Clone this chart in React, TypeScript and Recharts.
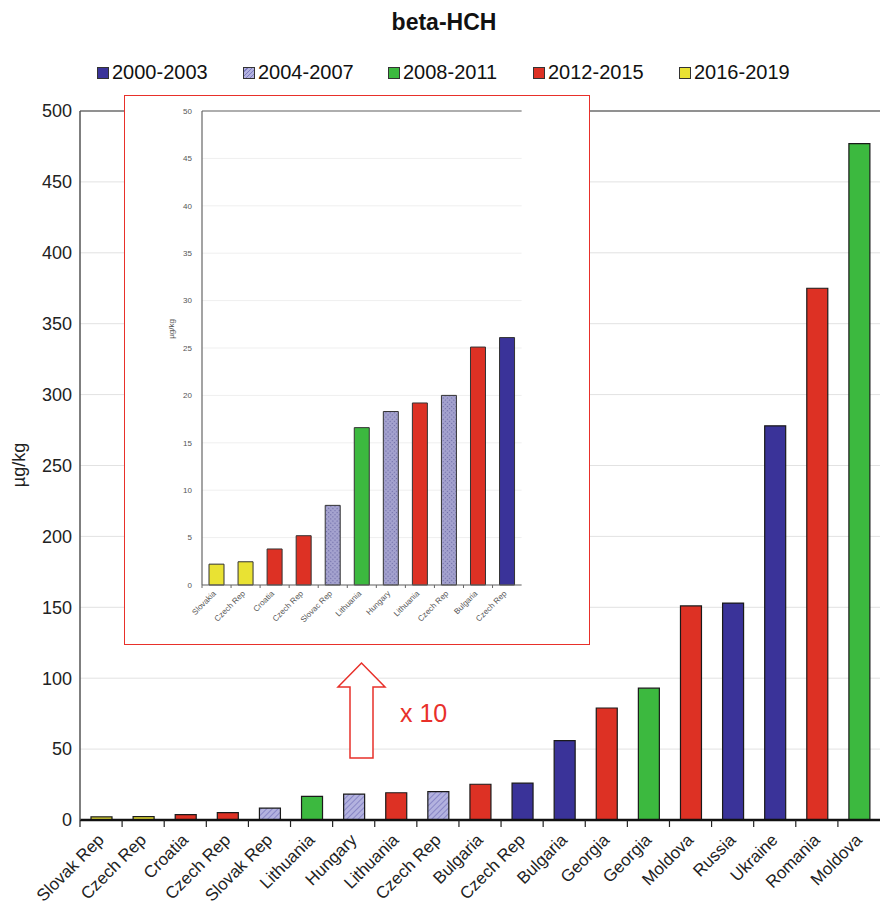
import { BarChart, Bar, XAxis, YAxis, CartesianGrid, Cell, ReferenceLine } from "recharts";

const periods = ["2000-2003", "2004-2007", "2008-2011", "2012-2015", "2016-2019"];
const periodFills = ["#3a3399", "url(#hatchMain)", "#3cb93f", "#dd3124", "#e9e233"];
const insetFills = ["#3a3399", "url(#hatchInset)", "#3cb93f", "#dd3124", "#e9e233"];

const mainCountries = [
  "Slovak Rep", "Czech Rep", "Croatia", "Czech Rep", "Slovak Rep", "Lithuania", "Hungary",
  "Lithuania", "Czech Rep", "Bulgaria", "Czech Rep", "Bulgaria", "Georgia", "Georgia",
  "Moldova", "Russia", "Ukraine", "Romania", "Moldova",
];
const mainValues = [2.2, 2.4, 3.8, 5.2, 8.4, 16.7, 18.3, 19.2, 20, 25.2, 26, 56, 79, 93, 151, 153, 278, 375, 477];
const mainPeriods = [4, 4, 3, 3, 1, 2, 1, 3, 1, 3, 0, 0, 3, 2, 3, 0, 0, 3, 2];
const mainTicks = [0, 50, 100, 150, 200, 250, 300, 350, 400, 450, 500];

const insetCountries = [
  "Slovakia", "Czech Rep", "Croatia", "Czech Rep", "Slovac Rep", "Lithuania",
  "Hungary", "Lithuania", "Czech Rep", "Bulgaria", "Czech Rep",
];
const insetValues = [2.2, 2.45, 3.8, 5.2, 8.4, 16.6, 18.3, 19.2, 20, 25.1, 26.1];
const insetPeriods = [4, 4, 3, 3, 1, 2, 1, 3, 1, 3, 0];
const insetTicks = [0, 5, 10, 15, 20, 25, 30, 35, 40, 45, 50];

const mainData = mainCountries.map((c, i) => ({ id: i, country: c, value: mainValues[i], period: mainPeriods[i] }));
const insetData = insetCountries.map((c, i) => ({ id: i, country: c, value: insetValues[i], period: insetPeriods[i] }));

const FONT = '"Liberation Sans", Arial, sans-serif';
const MAIN_BAND = 800 / 19;
const INSET_BAND = 319.6 / 11;

function MainTick({ x, y, payload }: any) {
  const label = mainCountries[payload.value];
  return (
    <g>
      <line x1={x - MAIN_BAND / 2} x2={x - MAIN_BAND / 2} y1={y} y2={y + 7} stroke="#222" strokeWidth={1.2} />
      <text
        transform={`translate(${x + 4},${y + 21}) rotate(-45)`}
        textAnchor="end"
        fontSize={17}
        fill="#222"
        fontFamily={FONT}
      >
        {label}
      </text>
    </g>
  );
}

function InsetTick({ x, y, payload }: any) {
  const label = insetCountries[payload.value];
  return (
    <g>
      <line x1={x - INSET_BAND / 2} x2={x - INSET_BAND / 2} y1={y} y2={y + 3} stroke="#666" strokeWidth={1} />
      <text
        transform={`translate(${x},${y + 9}) rotate(-45)`}
        textAnchor="end"
        fontSize={8}
        fill="#555"
        fontFamily={FONT}
      >
        {label}
      </text>
    </g>
  );
}

const legendX = [97, 243, 388, 533, 679];

export default function App() {
  return (
    <div style={{ position: "absolute", left: 0, top: 0, width: 880, height: 905, background: "#fff", fontFamily: FONT, overflow: "hidden" }}>
      <div style={{ position: "absolute", left: 0, top: 9, width: 888, textAlign: "center", fontSize: 23, fontWeight: "bold", color: "#111" }}>
        beta-HCH
      </div>
      {periods.map((p, i) => (
        <div key={p} style={{ position: "absolute", left: legendX[i], top: 61, display: "flex", alignItems: "center", fontSize: 20, color: "#111" }}>
          <span
            style={{
              display: "inline-block",
              width: 10,
              height: 10,
              border: "1px solid #333",
              marginRight: 3,
              background:
                i === 1
                  ? "repeating-linear-gradient(135deg, #b3b2df 0 2px, #7d7bc0 2px 3px)"
                  : periodFills[i],
            }}
          />
          {p}
        </div>
      ))}

      <div style={{ position: "absolute", left: 0, top: 0 }}>
        <BarChart width={880} height={905} data={mainData} margin={{ top: 111, right: 0, bottom: 0, left: 0 }}>
          <defs>
            <pattern id="hatchMain" width="4" height="4" patternUnits="userSpaceOnUse" patternTransform="rotate(45)">
              <rect width="4" height="4" fill="#b3b2df" />
              <line x1="0" y1="0" x2="0" y2="4" stroke="#7d7bc0" strokeWidth="1.6" />
            </pattern>
          </defs>
          <CartesianGrid vertical={false} stroke="#e2e2e2" />
          <XAxis
            dataKey="id"
            height={85}
            interval={0}
            tick={<MainTick />}
            tickLine={false}
            tickSize={0}
            tickMargin={0}
            axisLine={{ stroke: "#111", strokeWidth: 2.5 }}
          />
          <YAxis
            width={80}
            domain={[0, 500]}
            ticks={mainTicks}
            tickLine={false}
            axisLine={{ stroke: "#555", strokeWidth: 1.5 }}
            tick={{ fill: "#222", fontSize: 18, fontFamily: FONT }}
          />
          <ReferenceLine y={500} stroke="#333" strokeWidth={1.2} />
          <Bar dataKey="value" barSize={21} stroke="#1a1a1a" strokeWidth={1.2} isAnimationActive={false}>
            {mainData.map((d) => (
              <Cell key={d.id} fill={periodFills[d.period]} />
            ))}
          </Bar>
        </BarChart>
      </div>

      <svg width={880} height={905} style={{ position: "absolute", left: 0, top: 0, pointerEvents: "none" }}>
        <text transform="translate(25,465) rotate(-90)" textAnchor="middle" fontSize={18} fill="#222" fontFamily={FONT}>
          µg/kg
        </text>
        <polygon
          points="350,758 373,758 373,687 385,687 361.5,663 338,687 350,687"
          fill="#fff"
          stroke="#e8302a"
          strokeWidth={1.5}
        />
        <text x={400} y={722} fontSize={25} fill="#e8302a" fontFamily={FONT}>
          x 10
        </text>
      </svg>

      <div
        style={{
          position: "absolute",
          left: 124,
          top: 95,
          width: 464,
          height: 548,
          border: "1.5px solid #e8302a",
          background: "#fff",
        }}
      >
        <BarChart width={464} height={548} data={insetData} margin={{ top: 15, right: 67.4, bottom: 0, left: 0 }}>
          <defs>
            <pattern id="hatchInset" width="3" height="3" patternUnits="userSpaceOnUse" patternTransform="rotate(45)">
              <rect width="3" height="3" fill="#a5a3cf" />
              <rect width="1.2" height="1.2" fill="#6f6da8" />
            </pattern>
          </defs>
          <CartesianGrid vertical={false} stroke="#efefef" />
          <XAxis
            dataKey="id"
            height={59}
            interval={0}
            tick={<InsetTick />}
            tickLine={false}
            tickSize={0}
            tickMargin={0}
            axisLine={{ stroke: "#666", strokeWidth: 1.2 }}
          />
          <YAxis
            width={77}
            domain={[0, 50]}
            ticks={insetTicks}
            tickLine={false}
            tickSize={6}
            tickMargin={4}
            axisLine={{ stroke: "#666", strokeWidth: 1.2 }}
            tick={{ fill: "#555", fontSize: 8, fontFamily: FONT }}
          />
          <ReferenceLine y={50} stroke="#666" strokeWidth={1.2} />
          <Bar dataKey="value" barSize={15} stroke="#333" strokeWidth={1} isAnimationActive={false}>
            {insetData.map((d) => (
              <Cell key={d.id} fill={insetFills[d.period]} />
            ))}
          </Bar>
        </BarChart>
        <svg width={464} height={548} style={{ position: "absolute", left: 0, top: 0, pointerEvents: "none" }}>
          <text transform="translate(49,233) rotate(-90)" textAnchor="middle" fontSize={8} fill="#555" fontFamily={FONT}>
            µg/kg
          </text>
        </svg>
      </div>
    </div>
  );
}
